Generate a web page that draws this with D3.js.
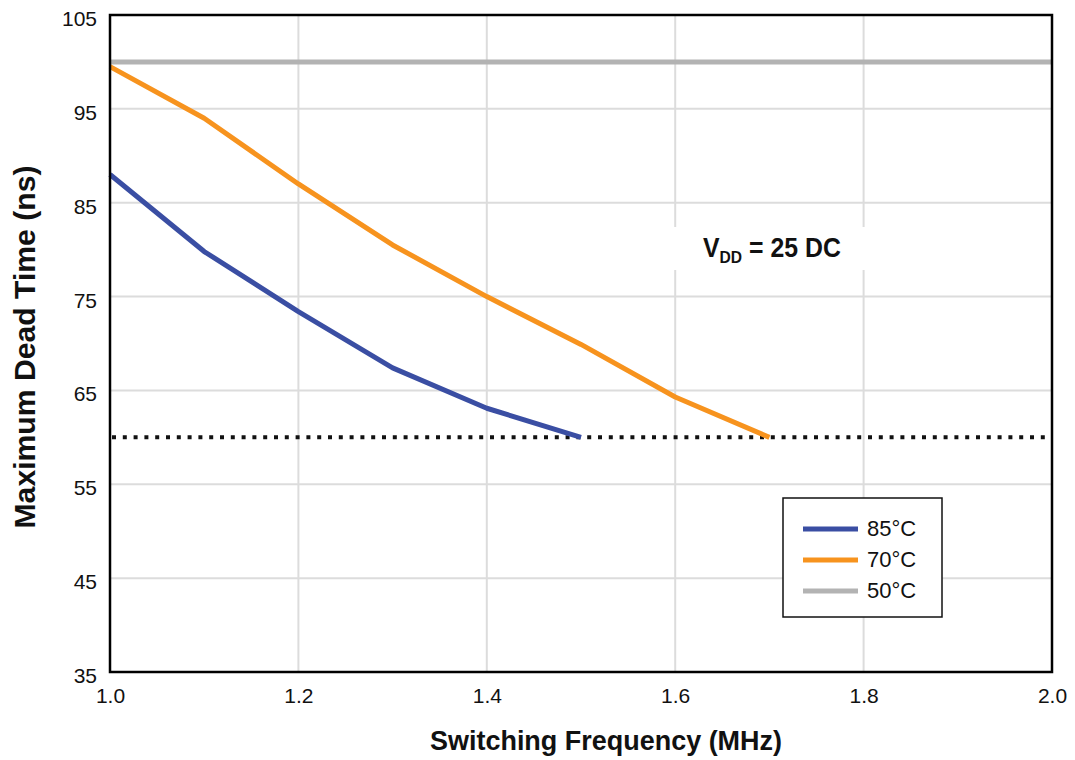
<!DOCTYPE html>
<html><head><meta charset="utf-8">
<script src="https://cdn.jsdelivr.net/npm/d3@7"></script>
<style>body{margin:0;background:#fff;}svg{display:block;font-family:"Liberation Sans",Arial,Helvetica,sans-serif;}</style>
</head><body>
<svg id="c" width="1075" height="760"></svg>
<script>
const freq85 = [1.0, 1.1, 1.2, 1.3, 1.4, 1.5];
const dead85 = [88, 79.8, 73.4, 67.4, 63.1, 60];
const freq70 = [1.0, 1.1, 1.2, 1.3, 1.4, 1.5, 1.6, 1.7];
const dead70 = [99.5, 94, 87, 80.5, 75, 69.9, 64.3, 60];
const freq50 = [1.0, 2.0];
const dead50 = [100, 100];
const limitValue = 60;
const xTicks = [1.0, 1.2, 1.4, 1.6, 1.8, 2.0];
const yTicks = [35, 45, 55, 65, 75, 85, 95, 105];
const seriesNames = ["85°C", "70°C", "50°C"];
const seriesColors = ["#3a4ea3", "#f7931e", "#b3b3b3"];

const svg = d3.select("#c");
const L = 110, R = 1052, T = 15, B = 672;
const x = d3.scaleLinear().domain([1.0, 2.0]).range([L, R]);
const y = d3.scaleLinear().domain([35, 105]).range([B, T]);

// grid
const gridX = [1.2, 1.4, 1.6, 1.8];
const gridY = [45, 55, 65, 75, 85, 95];
svg.append("g").selectAll("line").data(gridX).join("line")
  .attr("x1", d => x(d)).attr("x2", d => x(d)).attr("y1", T).attr("y2", B)
  .attr("stroke", "#dcdcdc").attr("stroke-width", 2);
svg.append("g").selectAll("line").data(gridY).join("line")
  .attr("x1", L).attr("x2", R).attr("y1", d => y(d)).attr("y2", d => y(d))
  .attr("stroke", "#dcdcdc").attr("stroke-width", 2);

// annotation background box
svg.append("rect").attr("x", 655).attr("y", 227).attr("width", 225).attr("height", 43).attr("fill", "#fff");
const ann = svg.append("text").attr("transform", "translate(703,257) scale(0.92,1)")
  .attr("font-size", 27).attr("font-weight", "bold").attr("fill", "#111");
ann.append("tspan").text("V");
ann.append("tspan").attr("dy", 6).attr("font-size", 17).text("DD");
ann.append("tspan").attr("dy", -6).text(" = 25 DC");

// dotted limit line
svg.append("line").attr("x1", L + 2).attr("x2", R - 4).attr("y1", y(limitValue)).attr("y2", y(limitValue))
  .attr("stroke", "#111").attr("stroke-width", 4).attr("stroke-dasharray", "4,6.8");

const line = d3.line().x(d => x(d[0])).y(d => y(d[1]));
const series = [
  d3.zip(freq50, dead50),
  d3.zip(freq70, dead70),
  d3.zip(freq85, dead85)
];
const sc = [seriesColors[2], seriesColors[1], seriesColors[0]];
series.forEach((s, i) => {
  svg.append("path").datum(s).attr("d", line).attr("fill", "none")
    .attr("stroke", sc[i]).attr("stroke-width", 5).attr("stroke-linejoin", "round");
});

// frame
svg.append("rect").attr("x", L).attr("y", T).attr("width", R - L).attr("height", B - T)
  .attr("fill", "none").attr("stroke", "#000").attr("stroke-width", 2.5);

// axes ticks labels
const xAxis = d3.axisBottom(x).tickValues(xTicks).tickFormat(d3.format(".1f")).tickSize(0).tickPadding(16);
const gx = svg.append("g").attr("transform", `translate(0,${B})`).call(xAxis);
gx.select(".domain").remove();
gx.selectAll("text").attr("font-size", 21).attr("fill", "#111").attr("font-family", "'Liberation Sans',Arial,sans-serif");
const yAxis = d3.axisLeft(y).tickValues(yTicks).tickSize(0).tickPadding(13);
const gy = svg.append("g").attr("transform", `translate(${L},0)`).call(yAxis);
gy.select(".domain").remove();
gy.selectAll("text").attr("font-size", 21).attr("fill", "#111").attr("dy", "0.5em").attr("font-family", "'Liberation Sans',Arial,sans-serif");

// axis titles
svg.append("text").attr("x", 606).attr("y", 750).attr("text-anchor", "middle")
  .attr("font-size", 28).attr("font-weight", "bold").attr("fill", "#111")
  .attr("textLength", 352).attr("lengthAdjust", "spacingAndGlyphs").text("Switching Frequency (MHz)");
svg.append("text").attr("transform", "translate(35,347) rotate(-90)").attr("text-anchor", "middle")
  .attr("font-size", 30).attr("font-weight", "bold").attr("fill", "#111")
  .attr("textLength", 363).attr("lengthAdjust", "spacingAndGlyphs").text("Maximum Dead Time (ns)");

// legend
const lg = svg.append("g");
lg.append("rect").attr("x", 783).attr("y", 498).attr("width", 159).attr("height", 119)
  .attr("fill", "#fff").attr("stroke", "#111").attr("stroke-width", 1.5);
seriesNames.forEach((n, i) => {
  const yy = 529 + i * 31;
  lg.append("line").attr("x1", 803).attr("x2", 858).attr("y1", yy).attr("y2", yy)
    .attr("stroke", seriesColors[i]).attr("stroke-width", 5);
  lg.append("text").attr("x", 867).attr("y", yy + 7).attr("font-size", 22).attr("fill", "#111").text(n);
});
</script>
</body></html>
